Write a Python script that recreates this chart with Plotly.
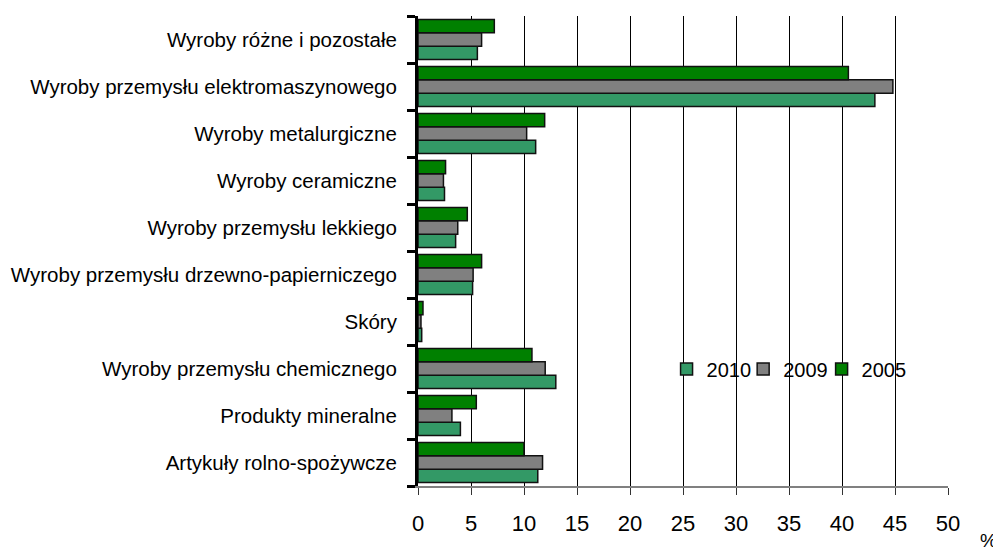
import plotly.graph_objects as go

# categories listed bottom -> top (plotly draws first category at the bottom)
categories = [
    "Artykuły rolno-spożywcze",
    "Produkty mineralne",
    "Wyroby przemysłu chemicznego",
    "Skóry",
    "Wyroby przemysłu drzewno-papierniczego",
    "Wyroby przemysłu lekkiego",
    "Wyroby ceramiczne",
    "Wyroby metalurgiczne",
    "Wyroby przemysłu elektromaszynowego",
    "Wyroby różne i pozostałe",
]

share_2010 = [11.3, 4.0, 13.0, 0.35, 5.15, 3.55, 2.5, 11.1, 43.1, 5.6]
share_2009 = [11.75, 3.2, 12.0, 0.28, 5.2, 3.75, 2.4, 10.25, 44.8, 6.0]
share_2005 = [10.0, 5.5, 10.75, 0.47, 6.0, 4.65, 2.6, 11.95, 40.6, 7.2]

x_ticks = [0, 5, 10, 15, 20, 25, 30, 35, 40, 45, 50]

series = [
    ("2010", share_2010, "#339966"),
    ("2009", share_2009, "#808080"),
    ("2005", share_2005, "#008000"),
]

font_family = "Liberation Sans, Arial, sans-serif"

fig = go.Figure()
# one legend per series so the entries can sit closer together
legend_ids = ["legend", "legend2", "legend3"]
legend_x = [0.469, 0.6135, 0.7615]
for (name, vals, col), lg in zip(series, legend_ids):
    fig.add_trace(go.Bar(
        y=categories,
        x=vals,
        orientation="h",
        name=name,
        legend=lg,
        marker=dict(color=col, line=dict(color="#111111", width=1.5)),
    ))

# page body has an 8px margin, so the figure is 8px smaller than the window
fig.update_layout(
    width=993,
    height=540,
    margin=dict(l=410, r=53, t=8, b=62),
    plot_bgcolor="white",
    paper_bgcolor="white",
    barmode="group",
    bargap=0.15,
    bargroupgap=0,
    showlegend=True,
)

for lg, lx in zip(legend_ids, legend_x):
    fig.update_layout({lg: dict(
        orientation="h",
        x=lx, xanchor="left",
        y=0.249, yanchor="middle",
        font=dict(family=font_family, size=20, color="black"),
        bgcolor="rgba(0,0,0,0)",
        itemwidth=30,
    )})

fig.update_xaxes(
    range=[0, 50],
    tickvals=x_ticks,
    automargin=False,
    showgrid=True,
    gridcolor="black",
    gridwidth=1,
    zeroline=False,
    showline=True,
    linecolor="#808080",
    linewidth=2,
    ticks="outside",
    ticklen=7,
    tickwidth=1,
    tickcolor="#333333",
    tickfont=dict(family=font_family, size=22, color="black"),
    ticklabelstandoff=10,
)

fig.update_yaxes(
    type="category",
    automargin=False,
    showgrid=False,
    showline=True,
    linecolor="black",
    linewidth=3,
    ticks="outside",
    tickson="boundaries",
    ticklen=8,
    tickwidth=3,
    tickcolor="black",
    tickfont=dict(family=font_family, size=20.5, color="black"),
    ticklabelstandoff=14,
)

fig.add_annotation(
    text="%",
    xref="paper", yref="paper",
    x=1.057, y=-0.09,
    xanchor="left", yanchor="top",
    showarrow=False,
    font=dict(family=font_family, size=19, color="black"),
)

fig.write_html("out.html")
